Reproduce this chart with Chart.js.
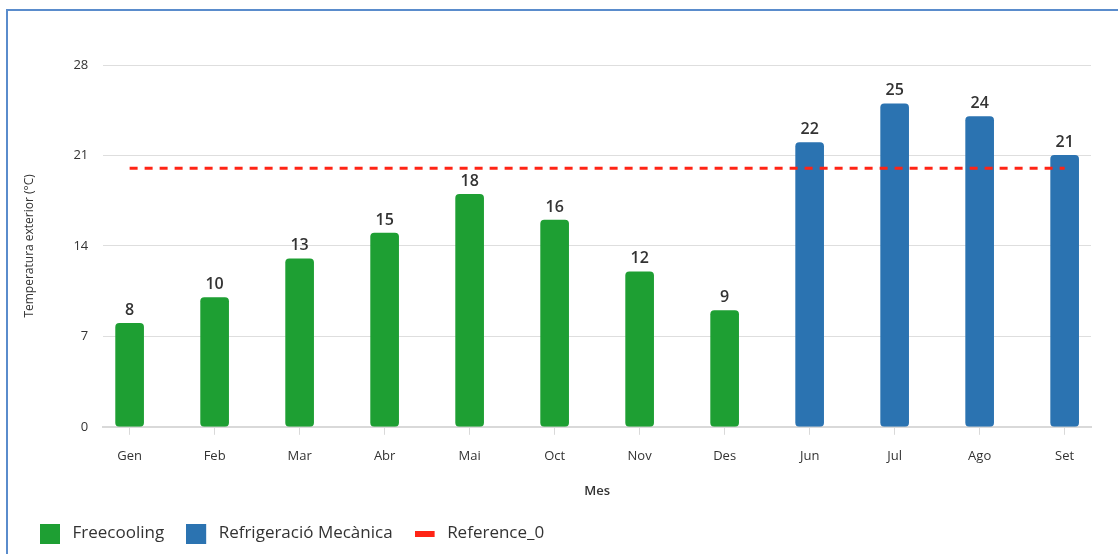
<!DOCTYPE html>
<html>
<head>
<meta charset="utf-8">
<script src="https://cdn.jsdelivr.net/npm/chart.js@4/dist/chart.umd.min.js"></script>
<style>
  html, body { margin: 0; padding: 0; background: #fff; overflow: hidden; }
  #wrap { position: relative; width: 1118px; height: 554px; }
  #frame { position: absolute; left: 6px; top: 9px; width: 1200px; height: 700px; border: 2px solid #5a8ccc; box-sizing: border-box; pointer-events: none; }
</style>
</head>
<body>
<div id="wrap">
  <canvas id="chart" width="1118" height="554"></canvas>
  <div id="frame"></div>
</div>
<script>
// data
var months = ['Gen', 'Feb', 'Mar', 'Abr', 'Mai', 'Oct', 'Nov', 'Des', 'Jun', 'Jul', 'Ago', 'Set']
var freecooling = [8, 10, 13, 15, 18, 16, 12, 9, null, null, null, null]
var refrigeracio = [null, null, null, null, null, null, null, null, 22, 25, 24, 21]
var reference0 = [20, 20, 20, 20, 20, 20, 20, 20, 20, 20, 20, 20]
var yTicks = [0, 7, 14, 21, 28]

var GREEN = '#1e9f33'
var BLUE = '#2b73b1'
var RED = '#ff2415'
var FONT = "'Open Sans', sans-serif"

// little legend symbols, drawn on the left of a 24px wide slot
function symbol(color, w, h) {
  var c = document.createElement('canvas')
  c.width = 24
  c.height = h
  var g = c.getContext('2d')
  g.fillStyle = color
  g.fillRect(0, 0, w, h)
  return c
}
var legendIcons = [symbol(GREEN, 20, 20), symbol(BLUE, 20, 20), symbol(RED, 20, 6)]

// numbers on top of the bars
var barValues = {
  id: 'barValues',
  afterDatasetsDraw: function (chart) {
    var ctx = chart.ctx
    ctx.save()
    ctx.font = '600 16px ' + FONT
    ctx.fillStyle = '#333'
    ctx.textAlign = 'center'
    ctx.textBaseline = 'bottom'
    chart.data.datasets.forEach(function (ds, i) {
      if (ds.type !== 'bar') return
      chart.getDatasetMeta(i).data.forEach(function (bar, j) {
        if (ds.data[j] == null) return
        ctx.fillText(ds.data[j], bar.x, bar.y - 5)
      })
    })
    ctx.restore()
  }
}

new Chart(document.getElementById('chart'), {
  data: {
    labels: months,
    datasets: [{
      type: 'bar',
      label: 'Freecooling',
      data: freecooling,
      backgroundColor: GREEN,
      borderRadius: 4,
      borderSkipped: false,
      barThickness: 28,
      grouped: false,
      order: 2
    }, {
      type: 'bar',
      label: 'Refrigeració Mecànica',
      data: refrigeracio,
      backgroundColor: BLUE,
      borderRadius: 4,
      borderSkipped: false,
      barThickness: 28,
      grouped: false,
      order: 2
    }, {
      type: 'line',
      label: 'Reference_0',
      data: reference0,
      borderColor: RED,
      backgroundColor: RED,
      borderWidth: 3,
      borderDash: [8, 7],
      pointRadius: 0,
      fill: false,
      order: 1
    }]
  },
  options: {
    responsive: false,
    animation: false,
    layout: { padding: { top: 65, left: 18, right: 27, bottom: 2 } },
    plugins: {
      tooltip: { enabled: false },
      legend: {
        position: 'bottom',
        align: 'start',
        labels: {
          usePointStyle: true,
          pointStyleWidth: 24,
          padding: 22,
          color: '#333',
          font: { family: FONT, size: 17 },
          generateLabels: function (chart) {
            return chart.data.datasets.map(function (ds, i) {
              return {
                text: ds.label,
                pointStyle: legendIcons[i],
                fontColor: '#333',
                datasetIndex: i,
                hidden: false,
                lineWidth: 0
              }
            })
          }
        }
      }
    },
    scales: {
      x: {
        offset: false,
        afterBuildTicks: function (s) {
          // keep a little gap between the plot edge and the first/last month
          s._startValue = -0.31
          s._valueRange = months.length - 1 + 0.62
        },
        grid: { offset: false, drawOnChartArea: false, drawTicks: true, tickLength: 8, color: '#d9d9d9' },
        border: { display: true, color: '#d9d9d9', width: 2 },
        ticks: { color: '#333', font: { family: FONT, size: 13 }, padding: 14 },
        title: { display: true, text: 'Mes', color: '#333', font: { family: FONT, size: 13, weight: '600' }, padding: { top: 5, bottom: 4 } }
      },
      y: {
        min: 0,
        max: 28,
        afterBuildTicks: function (s) {
          s.ticks = yTicks.map(function (v) { return { value: v } })
        },
        grid: { color: '#dedede', lineWidth: 1, drawTicks: false },
        border: { display: false },
        ticks: { color: '#333', font: { family: FONT, size: 13 }, padding: 15 },
        title: { display: true, text: 'Temperatura exterior (°C)', color: '#333', font: { family: FONT, size: 12 }, padding: { bottom: 22 } }
      }
    }
  },
  plugins: [barValues]
})
</script>
</body>
</html>
